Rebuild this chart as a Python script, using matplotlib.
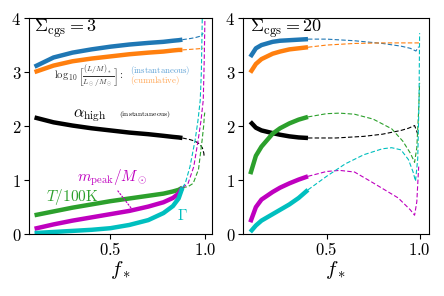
import matplotlib
matplotlib.use("Agg")
import matplotlib.pyplot as plt

plt.rcParams["mathtext.fontset"] = "cm"
plt.rcParams["font.family"] = "serif"
plt.rcParams["font.serif"] = ["DejaVu Serif"]

# ---------------- Sigma_cgs = 3 ----------------
f3 = [0.10, 0.20, 0.30, 0.40, 0.50, 0.60, 0.70, 0.78, 0.83, 0.86, 0.88]
lum_inst3 = [3.10, 3.27, 3.36, 3.42, 3.47, 3.51, 3.54, 3.56, 3.58, 3.59, 3.60]
lum_cum3 = [3.00, 3.12, 3.20, 3.25, 3.29, 3.33, 3.36, 3.38, 3.40, 3.41, 3.41]
alpha3 = [2.16, 2.07, 2.01, 1.96, 1.92, 1.88, 1.85, 1.82, 1.80, 1.79, 1.78]
temp3 = [0.35, 0.42, 0.49, 0.55, 0.61, 0.66, 0.71, 0.75, 0.79, 0.82, 0.86]
mpeak3 = [0.10, 0.18, 0.25, 0.31, 0.37, 0.43, 0.51, 0.59, 0.67, 0.75, 0.86]
gamma3 = [0.02, 0.04, 0.06, 0.08, 0.11, 0.17, 0.26, 0.39, 0.52, 0.66, 0.86]

lum_inst3_df = [0.88, 0.92, 0.95, 0.97, 0.98, 0.99]
lum_inst3_d = [3.60, 3.62, 3.64, 3.66, 3.68, 3.72]
lum_cum3_df = [0.88, 0.92, 0.96, 0.99]
lum_cum3_d = [3.41, 3.42, 3.43, 3.44]
alpha3_df = [0.88, 0.92, 0.947, 0.97, 0.985, 0.993, 0.995]
alpha3_d = [1.78, 1.75, 1.72, 1.67, 1.60, 1.50, 1.42]
temp3_df = [0.88, 0.91, 0.937, 0.965, 0.984, 0.992, 0.996, 0.998]
temp3_d = [0.86, 0.88, 0.94, 1.20, 1.74, 2.00, 2.20, 2.25]
mpeak3_df = [0.88, 0.91, 0.94, 0.963, 0.978, 0.99, 0.995, 0.999]
mpeak3_d = [0.86, 0.94, 1.25, 1.74, 2.10, 2.48, 3.20, 4.05]
gamma3_df = [0.88, 0.895, 0.92, 0.947, 0.962, 0.974, 0.98, 0.985]
gamma3_d = [0.86, 0.94, 1.25, 1.74, 2.10, 2.48, 3.00, 4.05]

# ---------------- Sigma_cgs = 20 ----------------
f20 = [0.09, 0.12, 0.15, 0.21, 0.25, 0.30, 0.35, 0.40]
lum_inst20 = [3.28, 3.44, 3.50, 3.56, 3.58, 3.59, 3.60, 3.61]
lum_cum20 = [2.99, 3.15, 3.24, 3.34, 3.38, 3.42, 3.44, 3.46]
alpha20 = [2.08, 1.97, 1.92, 1.87, 1.84, 1.81, 1.79, 1.78]
temp20 = [1.11, 1.45, 1.62, 1.86, 1.96, 2.05, 2.12, 2.17]
mpeak20 = [0.22, 0.50, 0.64, 0.78, 0.86, 0.94, 1.01, 1.07]
gamma20 = [0.04, 0.16, 0.25, 0.37, 0.45, 0.55, 0.67, 0.82]

lum_inst20_df = [0.40, 0.50, 0.65, 0.80, 0.90, 0.95, 0.98, 0.995]
lum_inst20_d = [3.61, 3.61, 3.58, 3.53, 3.48, 3.44, 3.39, 3.47]
lum_cum20_df = [0.40, 0.50, 0.65, 0.80, 0.90, 1.00]
lum_cum20_d = [3.46, 3.50, 3.53, 3.54, 3.54, 3.54]
alpha20_df = [0.40, 0.55, 0.70, 0.80, 0.90, 0.94, 0.973, 0.985, 0.995]
alpha20_d = [1.78, 1.78, 1.81, 1.85, 1.92, 1.96, 2.01, 1.90, 1.80]
temp20_df = [0.40, 0.50, 0.57, 0.65, 0.75, 0.85, 0.91, 0.95, 0.973, 0.985, 0.995, 1.0]
temp20_d = [2.17, 2.23, 2.24, 2.22, 2.13, 1.95, 1.72, 1.50, 1.33, 1.60, 2.30, 2.80]
mpeak20_df = [0.40, 0.50, 0.57, 0.65, 0.74, 0.885, 0.95, 0.973, 0.985, 0.995]
mpeak20_d = [1.07, 1.16, 1.18, 1.15, 0.97, 0.67, 0.45, 0.35, 0.60, 1.25]
gamma20_df = [0.40, 0.50, 0.60, 0.70, 0.80, 0.85, 0.90, 0.94, 0.965, 0.978, 0.99, 0.997, 1.0]
gamma20_d = [0.82, 1.07, 1.30, 1.47, 1.58, 1.60, 1.56, 1.38, 1.15, 0.98, 1.40, 2.50, 3.72]

C_INST, C_CUM, C_T, C_M, C_G = "#1f77b4", "#ff7f0e", "#2ca02c", "m", "c"

fig = plt.figure(figsize=(4.44, 2.96), dpi=100)
ax1 = fig.add_axes([0.065, 0.209, 0.412, 0.730])
ax2 = fig.add_axes([0.547, 0.209, 0.419, 0.730])


def draw(ax, f, solid, dashed):
    for y, c in solid:
        ax.plot(f, y, color=c, lw=3.2, solid_capstyle="butt")
    for fx, y, c in dashed:
        ax.plot(fx, y, color=c, lw=0.8, ls=(0, (4, 2)))


draw(ax1, f3,
     [(lum_inst3, C_INST), (lum_cum3, C_CUM), (alpha3, "k"),
      (temp3, C_T), (mpeak3, C_M), (gamma3, C_G)],
     [(lum_inst3_df, lum_inst3_d, C_INST), (lum_cum3_df, lum_cum3_d, C_CUM),
      (alpha3_df, alpha3_d, "k"), (temp3_df, temp3_d, C_T),
      (mpeak3_df, mpeak3_d, C_M), (gamma3_df, gamma3_d, C_G)])
draw(ax2, f20,
     [(lum_inst20, C_INST), (lum_cum20, C_CUM), (alpha20, "k"),
      (temp20, C_T), (mpeak20, C_M), (gamma20, C_G)],
     [(lum_inst20_df, lum_inst20_d, C_INST), (lum_cum20_df, lum_cum20_d, C_CUM),
      (alpha20_df, alpha20_d, "k"), (temp20_df, temp20_d, C_T),
      (mpeak20_df, mpeak20_d, C_M), (gamma20_df, gamma20_d, C_G)])

ax1.set_xlim(0.07, 1.035)
ax2.set_xlim(0.05, 1.05)
for ax in (ax1, ax2):
    ax.set_ylim(0, 4)
    ax.set_xticks([0.5, 1.0], [r"$0.5$", r"$1.0$"], fontsize=12)
    ax.set_yticks([0, 1, 2, 3, 4], [r"$0$", r"$1$", r"$2$", r"$3$", r"$4$"], fontsize=12)
    ax.set_xlabel(r"$f_*$", fontsize=15, labelpad=0)
    ax.tick_params(length=3.5, width=0.8, pad=2)

ax1.text(0.03, 0.95, r"$\Sigma_{\rm cgs}=3$", transform=ax1.transAxes,
         fontsize=13, va="center", ha="left")
ax2.text(0.04, 0.95, r"$\Sigma_{\rm cgs}=20$", transform=ax2.transAxes,
         fontsize=13, va="center", ha="left")

ax1.text(0.205, 2.91, r"$\log_{10}\left[\frac{(L/M)_*}{L_\odot/M_\odot}\right]:$",
         fontsize=7.8, color="#333333", va="center", ha="left")
ax1.text(0.605, 3.02, r"$\mathrm{(instantaneous)}$", fontsize=6.3,
         color="#5fa2d6", va="center", ha="left")
ax1.text(0.605, 2.84, r"$\mathrm{(cumulative)}$", fontsize=6.3,
         color="#ffa552", va="center", ha="left")
ax1.text(0.305, 2.19, r"$\alpha_{\rm high}$", fontsize=11.5, va="center", ha="left")
ax1.text(0.547, 2.21, r"$\mathrm{(instantaneous)}$", fontsize=5.4,
         va="center", ha="left")
ax1.annotate(r"$m_{\rm peak}/M_\odot$", xy=(0.61, 0.48), xytext=(0.51, 1.04),
             fontsize=11, color=C_M, va="center", ha="center",
             arrowprops=dict(arrowstyle="-", linestyle=":", color=C_M, lw=0.9,
                             relpos=(0.55, 0.0), shrinkA=0, shrinkB=0))
ax1.text(0.16, 0.69, r"$T/100{\rm K}$", fontsize=11, color=C_T,
         va="center", ha="left")
ax1.text(0.85, 0.35, r"$\Gamma$", fontsize=11, color=C_G,
         va="center", ha="left")

fig.savefig("out.png", dpi=100)
plt.close(fig)
